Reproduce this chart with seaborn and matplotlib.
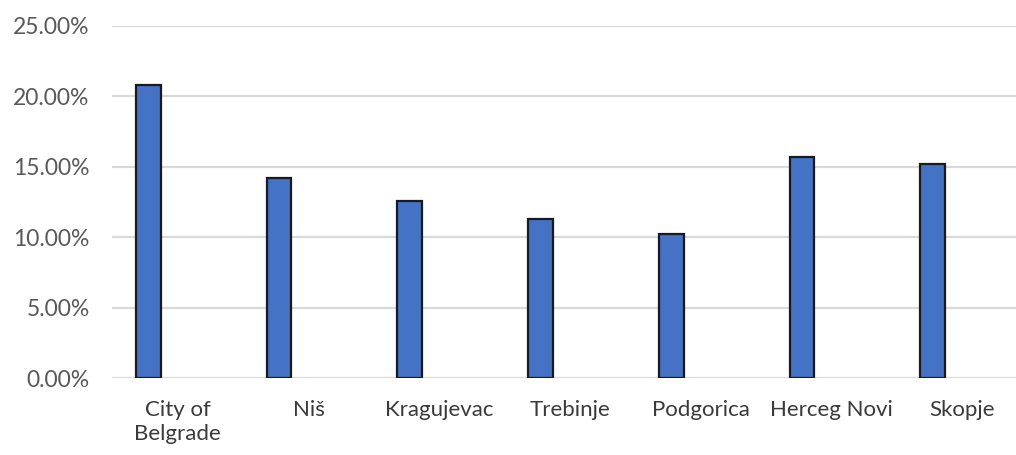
import matplotlib
matplotlib.use("Agg")
import matplotlib.pyplot as plt
import matplotlib.ticker as mticker
import pandas as pd
import seaborn as sns

# Share of respondents per city
cities = ["City of\nBelgrade", "Niš", "Kragujevac", "Trebinje",
          "Podgorica", "Herceg Novi", "Skopje"]
shares = [0.208, 0.142, 0.126, 0.113, 0.102, 0.157, 0.152]
series_names = ["Share", "Other"]
yticks = [0.0, 0.05, 0.10, 0.15, 0.20, 0.25]

sns.set_theme(style="white")
plt.rcParams["font.family"] = ["Lato", "DejaVu Sans"]

df = pd.DataFrame({
    "city": cities + cities,
    "value": shares + [0.0] * len(cities),
    "series": [series_names[0]] * len(cities) + [series_names[1]] * len(cities),
})

fig = plt.figure(figsize=(10.16, 4.55), dpi=100)
ax = fig.add_axes([0.110, 0.169, 0.890, 0.774])

sns.barplot(
    data=df, x="city", y="value", hue="series", hue_order=series_names,
    order=cities, palette=["#4472C4", "#FFFFFF"], saturation=1,
    width=0.904, gap=0.58, edgecolor="#1a1a1a", linewidth=1.6,
    legend=False, ax=ax, errorbar=None,
)
# hide the empty companion series
for p in ax.patches[len(cities):]:
    p.set_visible(False)

ax.set_ylim(0, 0.25)
ax.set_xlim(-0.505, 6.41)
ax.set_yticks(yticks)
ax.yaxis.set_major_formatter(mticker.FuncFormatter(lambda v, _: f"{v*100:.2f}%"))
ax.grid(axis="y", color="#d9d9d9", linewidth=1.6)
ax.set_axisbelow(True)
for s in ax.spines.values():
    s.set_visible(False)
ax.set_xlabel("")
ax.set_ylabel("")
ax.tick_params(axis="y", length=0, pad=16, labelsize=16.5, labelcolor="#595959")
ax.tick_params(axis="x", length=0, pad=16, labelsize=16, labelcolor="#3a3a3a")
for t in ax.get_xticklabels():
    t.set_linespacing(1.25)

fig.savefig("out.png", dpi=100)
